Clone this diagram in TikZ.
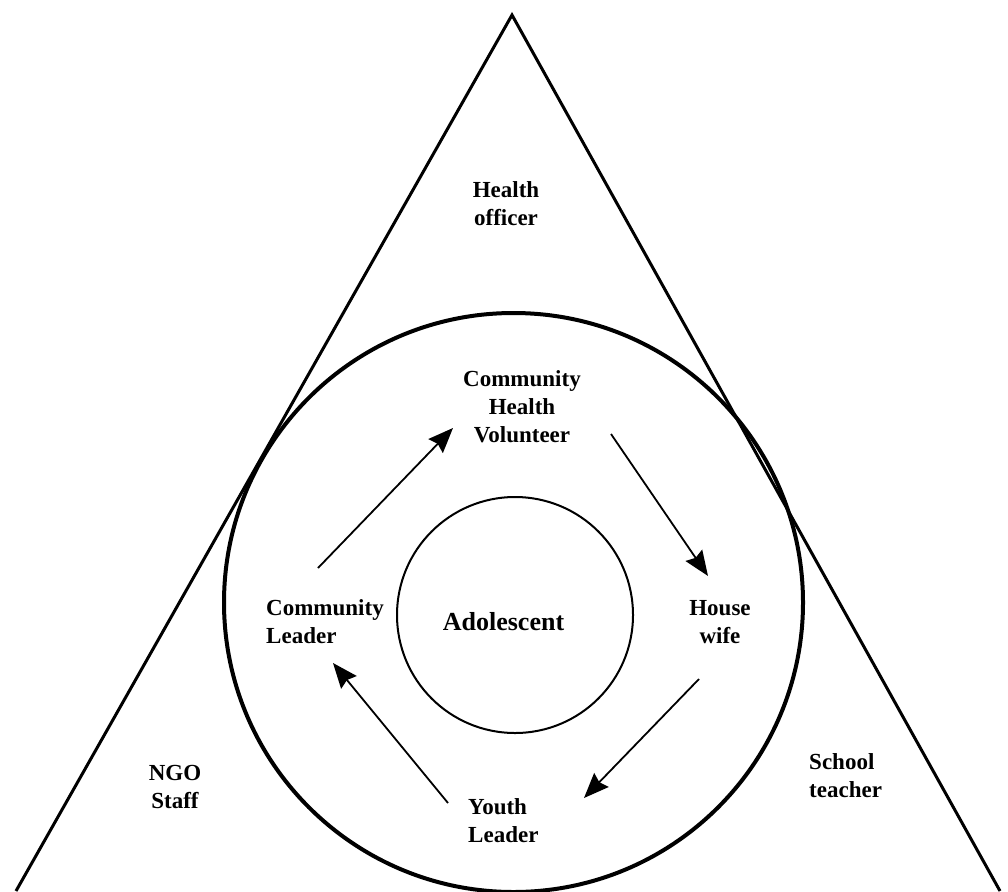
\documentclass[tikz,border=0pt]{standalone}
\usepackage{fontspec}
\setmainfont{Liberation Serif}
\usetikzlibrary{arrows.meta}

\begin{document}
\begin{tikzpicture}[x=1pt,y=-1pt,
    lbl/.style={font=\fontsize{23}{28}\selectfont\bfseries,inner sep=0pt},
    flow/.style={line width=1.8pt,-{Stealth[length=25pt,width=20pt,inset=3pt]}}]
  \useasboundingbox (0,0) rectangle (1008,891);
  \clip (0,0) rectangle (1008,891);

  % Triangle
  \draw[line width=3pt,line join=miter] (16,891) -- (512,15) -- (1000,891);

  % Circles
  \draw[line width=4pt] (513.5,602.5) circle[radius=289.5pt];
  \draw[line width=2pt] (515,615) circle[radius=118pt];

  % Outer labels (base = last line)
  \node[lbl,align=center,anchor=base] (officer) at (506,225) {Health\\officer};
  \node[lbl,align=center,anchor=base] (ngo) at (175,808) {NGO\\Staff};
  \node[lbl,align=left,anchor=base west] (teacher) at (809,797) {School\\teacher};

  % Ring labels
  \node[lbl,align=center,anchor=base] (chv) at (522,442) {Community\\Health\\Volunteer};
  \node[lbl,align=center,anchor=base] (wife) at (720,643) {House\\wife};
  \node[lbl,align=left,anchor=base west] (youth) at (468,842) {Youth\\Leader};
  \node[lbl,align=left,anchor=base west] (leader) at (266,643) {Community\\Leader};

  % Centre
  \node[lbl,font=\fontsize{26}{30}\selectfont\bfseries,anchor=base] (adol) at (503.5,630) {Adolescent};

  % Arrow ends
  \coordinate (leaderout) at (318,568);
  \coordinate (chvin) at (453,428);
  \coordinate (chvout) at (611,434);
  \coordinate (wifein) at (708,576);
  \coordinate (wifeout) at (699,679);
  \coordinate (youthin) at (584,798);
  \coordinate (youthout) at (448,803);
  \coordinate (leaderin) at (333,663);

  % Cycle
  \draw[flow] (leaderout) -- (chvin);
  \draw[flow] (chvout) -- (wifein);
  \draw[flow] (wifeout) -- (youthin);
  \draw[flow] (youthout) -- (leaderin);
\end{tikzpicture}
\end{document}
